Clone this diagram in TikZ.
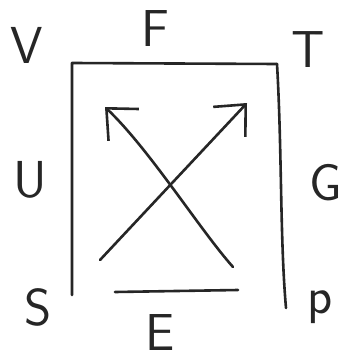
\documentclass[tikz,border=0pt]{standalone}
\usetikzlibrary{arrows.meta}
\begin{document}
\begin{tikzpicture}[x=1pt,y=-1pt,
  pen/.style={line width=2.6pt,line cap=round,line join=round,black!85},
  arr/.style={pen,-{Straight Barb[length=24pt,width=44pt,line width=2.6pt]}},
  lbl/.style={font=\fontsize{52}{52}\selectfont\sffamily,inner sep=0pt,text=black!85}]
\useasboundingbox (0,0) rectangle (353,361);
\fill[white] (0,0) rectangle (353,361);
% labels
\node[lbl] (V) at (27,45) {V};
\node[lbl] (F) at (155,29) {F};
\node[lbl] (T) at (308,50) {T};
\node[lbl] (U) at (30,180) {U};
\node[lbl] (G) at (326,183) {G};
\node[lbl] (S) at (38,307) {S};
\node[lbl] (E) at (160,333) {E};
\node[lbl] (p) at (320,307) {p};
% box
\coordinate (bl) at (72,295);
\coordinate (tl) at (72,63);
\coordinate (tr) at (277,64);
\coordinate (br) at (286,308);
\coordinate (b1) at (115,292);
\coordinate (b2) at (238,290);
\draw[pen] (bl) -- (tl) -- (tr);
\draw[pen] (tr) .. controls (282,150) and (280,240) .. (br);
\draw[pen] (b1) -- (b2);
% arrows
\coordinate (a1s) at (100,260);
\coordinate (a1e) at (247,103);
\coordinate (a2s) at (233,267);
\coordinate (a2e) at (105,107);
\draw[arr] (a1s) -- (a1e);
\draw[arr] (a2s) .. controls (200,230) and (150,150) .. (a2e);
\end{tikzpicture}
\end{document}
